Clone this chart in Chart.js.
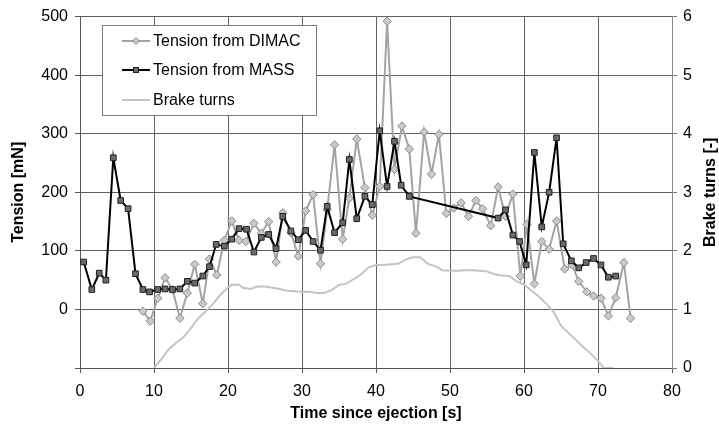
<!DOCTYPE html>
<html>
<head>
<meta charset="utf-8">
<script src="https://cdn.jsdelivr.net/npm/chart.js@4/dist/chart.umd.min.js"></script>
<style>
html,body{margin:0;padding:0;background:#fff;}
#wrap{position:relative;width:719px;height:433px;}
</style>
</head>
<body>
<div id="wrap"><canvas id="c" width="719" height="433"></canvas></div>
<script>
// ---- data ----
const dimacTime = [8.5,9.5,10.5,11.5,12.5,13.5,14.5,15.5,16.6,17.5,18.5,19.5,20.5,21.5,22.4,
  23.5,24.5,25.5,26.5,27.4,28.5,29.5,30.5,31.5,32.5,33.4,34.4,35.5,36.4,37.4,38.5,39.5,40.5,41.5,42.5,43.5,44.5,
  45.4,46.5,47.5,48.5,49.5,50.5,51.5,52.5,53.5,54.4,55.5,56.5,57.5,58.5,59.5,60.4,61.4,62.4,63.4,
  64.4,65.5,66.5,67.4,68.5,69.4,70.4,71.4,72.4,73.5,74.4];
const dimacTension = [-3,-20,19,54,34,-15,28,77,10,86,59,118,151,118,116,
  147,130,150,81,165,131,91,168,196,78,170,281,120,190,291,208,161,210,492,239,313,274,
  130,303,231,299,164,173,182,159,186,172,143,209,159,197,57,145,44,116,103,
  151,69,76,48,30,23,19,-11,20,80,-15];

const massTime = [0.5,1.6,2.6,3.5,4.5,5.5,6.5,7.5,8.5,9.4,
  10.5,11.5,12.5,13.5,14.5,15.5,16.6,17.5,18.4,19.5,
  20.5,21.5,22.5,23.5,24.5,25.5,26.5,27.4,28.5,29.5,
  30.5,31.5,32.5,33.4,34.4,35.5,36.4,37.4,38.5,39.5,
  40.5,41.5,42.5,43.4,44.5,
  56.5,57.5,58.5,59.4,60.3,61.4,62.4,63.4,64.4,65.3,66.4,67.4,68.4,69.4,70.4,71.4,72.4];
const massTension = [81,34,62,50,259,186,172,61,34,30,
  34,35,34,35,48,45,57,73,111,108,
  120,138,137,98,123,128,104,159,134,119,
  135,116,101,176,131,148,256,155,193,179,
  305,210,287,212,193,
  156,170,127,116,76,268,141,200,293,112,83,71,80,87,76,55,57];

const brakeTime = [10,11,12,13,14,15,16,17,18,19,20,20.5,21.5,
  22,23,24,25,26,27,28,29,30,31,32,33,34,35,36,37,38,39,40,41,42,43,44,45,46,
  47,48,49,50,51,52,53,54,55,56,57,58,59,60,61,62,63,64,65,66,67,68,69,70,70.8,72];
const brakeTurns = [0,0.15,0.32,0.43,0.53,0.68,0.85,0.97,1.1,1.25,1.38,1.42,1.42,
  1.37,1.35,1.39,1.39,1.37,1.35,1.32,1.31,1.30,1.30,1.28,1.28,1.33,1.42,1.44,1.52,1.6,1.72,1.76,1.76,1.77,1.78,1.85,1.89,1.89,
  1.78,1.74,1.67,1.66,1.66,1.67,1.67,1.66,1.65,1.6,1.58,1.57,1.48,1.43,1.32,1.22,1.1,0.96,0.72,0.6,0.48,0.36,0.25,0.12,0,0];

const xTicks = [0,10,20,30,40,50,60,70,80];
const tensionTicks = [0,100,200,300,400,500];
const turnTicks = [0,1,2,3,4,5,6];

const labels = {
  dimac: 'Tension from DIMAC',
  mass: 'Tension from MASS',
  brake: 'Brake turns',
  x: 'Time since ejection [s]',
  yL: 'Tension [mN]',
  yR: 'Brake turns [-]'
};

const pts = (xs, ys) => xs.map((x, i) => ({x: x, y: ys[i]}));

const FONT = "'Liberation Sans', Arial, sans-serif";
Chart.defaults.font.family = FONT;
Chart.defaults.font.size = 16;
Chart.defaults.color = '#000';

const styles = {
  dimac: {line: '#a3a3a3', fill: '#c9c9c9', border: '#8c8c8c'},
  mass: {line: '#000000', fill: '#6a6a6a', border: '#202020'},
  brake: {line: '#c4c4c4'}
};
const GRID = '#626262';

const overlay = {
  id: 'overlay',
  afterDatasetsDraw(chart) {
    const ctx = chart.ctx;
    ctx.save();
    // legend box
    const bx = 102, by = 25, bw = 214, bh = 90;
    ctx.fillStyle = '#fff';
    ctx.fillRect(bx, by, bw, bh);
    ctx.strokeStyle = '#7a7a7a';
    ctx.lineWidth = 1;
    ctx.strokeRect(bx + 0.5, by + 0.5, bw, bh);
    const rows = [
      {y: 41, text: labels.dimac, s: styles.dimac, marker: 'diamond'},
      {y: 70, text: labels.mass, s: styles.mass, marker: 'square'},
      {y: 100, text: labels.brake, s: styles.brake, marker: null}
    ];
    rows.forEach(r => {
      ctx.strokeStyle = r.s.line;
      ctx.lineWidth = 2;
      ctx.beginPath();
      ctx.moveTo(122, r.y);
      ctx.lineTo(150, r.y);
      ctx.stroke();
      const cx = 136;
      if (r.marker === 'diamond') {
        ctx.beginPath();
        ctx.moveTo(cx, r.y - 3.5); ctx.lineTo(cx + 3.5, r.y); ctx.lineTo(cx, r.y + 3.5); ctx.lineTo(cx - 3.5, r.y); ctx.closePath();
        ctx.fillStyle = r.s.fill; ctx.fill();
        ctx.strokeStyle = r.s.border; ctx.lineWidth = 1; ctx.stroke();
      } else if (r.marker === 'square') {
        ctx.fillStyle = r.s.fill;
        ctx.fillRect(cx - 2.5, r.y - 2.5, 5, 5);
        ctx.strokeStyle = r.s.border; ctx.lineWidth = 1;
        ctx.strokeRect(cx - 2.5, r.y - 2.5, 5, 5);
      }
      ctx.fillStyle = '#000';
      ctx.font = '16px ' + FONT;
      ctx.textBaseline = 'middle';
      ctx.textAlign = 'left';
      ctx.fillText(r.text, 153, r.y + 1);
    });
    // right axis title (reads bottom to top)
    const a = chart.chartArea;
    ctx.translate(711, (a.top + a.bottom) / 2);
    ctx.rotate(-Math.PI / 2);
    ctx.font = 'bold 16px ' + FONT;
    ctx.textAlign = 'center';
    ctx.textBaseline = 'middle';
    ctx.fillStyle = '#000';
    ctx.fillText(labels.yR, 0, 0);
    ctx.restore();
  }
};

new Chart(document.getElementById('c'), {
  type: 'line',
  data: {
    datasets: [
      {
        label: labels.mass,
        data: pts(massTime, massTension),
        yAxisID: 'y',
        borderColor: styles.mass.line,
        borderWidth: 2,
        pointStyle: 'rect',
        pointRadius: 4,
        pointBackgroundColor: styles.mass.fill,
        pointBorderColor: styles.mass.border,
        pointBorderWidth: 1,
        tension: 0,
        order: 0
      },
      {
        label: labels.dimac,
        data: pts(dimacTime, dimacTension),
        yAxisID: 'y',
        borderColor: styles.dimac.line,
        borderWidth: 2,
        pointStyle: 'rectRot',
        pointRadius: 4.2,
        pointBackgroundColor: styles.dimac.fill,
        pointBorderColor: styles.dimac.border,
        pointBorderWidth: 1,
        tension: 0,
        order: 1
      },
      {
        label: labels.brake,
        data: pts(brakeTime, brakeTurns),
        yAxisID: 'y2',
        borderColor: styles.brake.line,
        borderWidth: 2,
        pointRadius: 0,
        tension: 0,
        order: 2
      }
    ]
  },
  options: {
    responsive: false,
    animation: false,
    events: [],
    layout: {padding: {top: 10, left: 0, right: 0, bottom: 0}},
    plugins: {legend: {display: false}, tooltip: {enabled: false}},
    scales: {
      x: {
        type: 'linear',
        min: 0, max: 80,
        afterFit: s => { s.height = 65; },
        afterBuildTicks: s => { s.ticks = xTicks.map(v => ({value: v})); },
        ticks: {padding: 9, font: {size: 16}, color: '#000', maxRotation: 0},
        grid: {color: GRID, lineWidth: 1, tickLength: 5, tickColor: '#555'},
        border: {color: '#555', width: 1},
        title: {display: true, text: labels.x, font: {size: 16, weight: 'bold'}, padding: {top: 0, bottom: 10}}
      },
      y: {
        position: 'left',
        min: -100, max: 500,
        afterFit: s => { s.width = 80; },
        afterBuildTicks: s => { s.ticks = [-100].concat(tensionTicks).map(v => ({value: v})); },
        ticks: {padding: 7, callback: v => (tensionTicks.includes(v) ? String(v) : '')},
        grid: {color: GRID, lineWidth: 1, tickLength: 5, tickColor: '#555'},
        border: {color: '#555', width: 1},
        title: {display: true, text: labels.yL, font: {size: 16, weight: 'bold'}, padding: {top: 9, bottom: 0}}
      },
      y2: {
        position: 'right',
        min: 0, max: 6,
        afterFit: s => { s.width = 47; },
        afterBuildTicks: s => { s.ticks = turnTicks.map(v => ({value: v})); },
        ticks: {padding: 6},
        grid: {drawOnChartArea: false, tickLength: 5, tickColor: '#777'},
        border: {color: '#8a8a8a', width: 1}
      }
    }
  },
  plugins: [overlay]
});
</script>
</body>
</html>
